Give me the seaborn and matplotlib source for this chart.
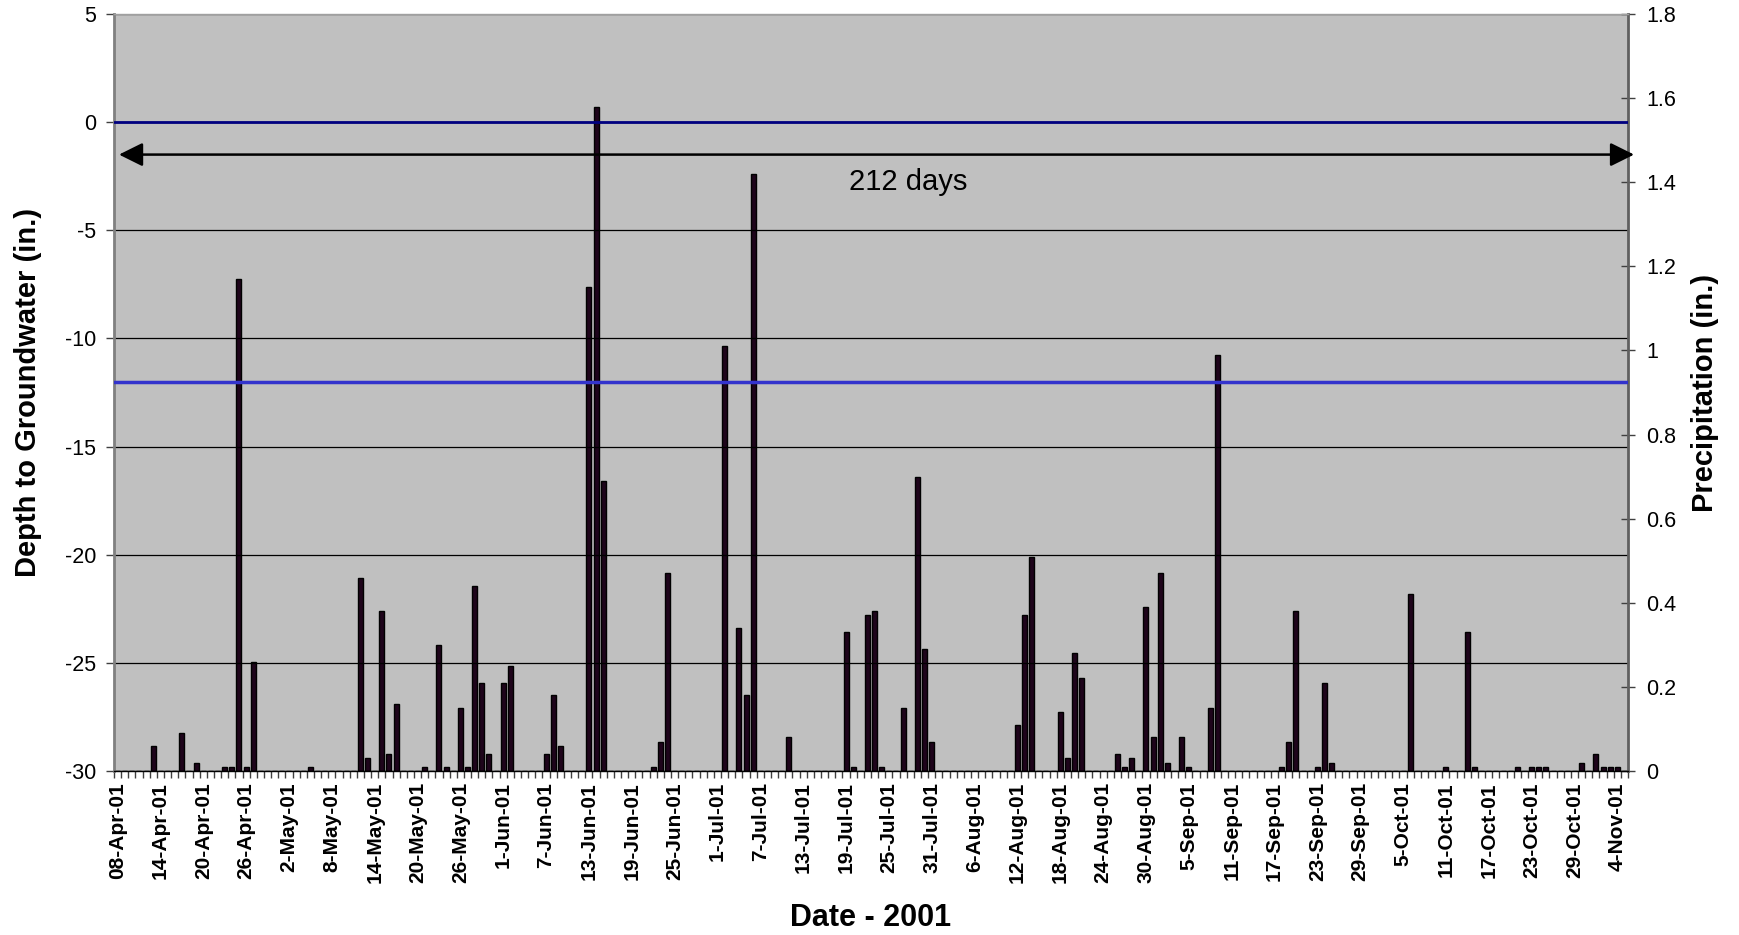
import numpy as np
import pandas as pd
import matplotlib
matplotlib.use("Agg")
import matplotlib.pyplot as plt
import seaborn as sns
from matplotlib.ticker import FixedLocator, NullFormatter

# Daily record window (one bar slot per day)
start_date = "2001-04-08"
end_date = "2001-11-05"

# Days with measurable precipitation and the amount (in.)
rain_dates = [
    "2001-04-13", "2001-04-17", "2001-04-19", "2001-04-23", "2001-04-24",
    "2001-04-25", "2001-04-26", "2001-04-27", "2001-05-05", "2001-05-12",
    "2001-05-13", "2001-05-15", "2001-05-16", "2001-05-17", "2001-05-21",
    "2001-05-23", "2001-05-24", "2001-05-26", "2001-05-27", "2001-05-28",
    "2001-05-29", "2001-05-30", "2001-06-01", "2001-06-02", "2001-06-07",
    "2001-06-08", "2001-06-09", "2001-06-13", "2001-06-14", "2001-06-15",
    "2001-06-22", "2001-06-23", "2001-06-24", "2001-07-02", "2001-07-04",
    "2001-07-05", "2001-07-06", "2001-07-11", "2001-07-19", "2001-07-20",
    "2001-07-22", "2001-07-23", "2001-07-24", "2001-07-27", "2001-07-29",
    "2001-07-30", "2001-07-31", "2001-08-12", "2001-08-13", "2001-08-14",
    "2001-08-18", "2001-08-19", "2001-08-20", "2001-08-21", "2001-08-26",
    "2001-08-27", "2001-08-28", "2001-08-30", "2001-08-31", "2001-09-01",
    "2001-09-02", "2001-09-04", "2001-09-05", "2001-09-08", "2001-09-09",
    "2001-09-18", "2001-09-19", "2001-09-20", "2001-09-23", "2001-09-24",
    "2001-09-25", "2001-10-06", "2001-10-11", "2001-10-14", "2001-10-15",
    "2001-10-21", "2001-10-23", "2001-10-24", "2001-10-25", "2001-10-30",
    "2001-11-01", "2001-11-02", "2001-11-03", "2001-11-04",
]
rain_in = [
    0.06, 0.09, 0.02, 0.01, 0.01,
    1.17, 0.01, 0.26, 0.01, 0.46,
    0.03, 0.38, 0.04, 0.16, 0.01,
    0.30, 0.01, 0.15, 0.01, 0.44,
    0.21, 0.04, 0.21, 0.25, 0.04,
    0.18, 0.06, 1.15, 1.58, 0.69,
    0.01, 0.07, 0.47, 1.01, 0.34,
    0.18, 1.42, 0.08, 0.33, 0.01,
    0.37, 0.38, 0.01, 0.15, 0.70,
    0.29, 0.07, 0.11, 0.37, 0.51,
    0.14, 0.03, 0.28, 0.22, 0.04,
    0.01, 0.03, 0.39, 0.08, 0.47,
    0.02, 0.08, 0.01, 0.15, 0.99,
    0.01, 0.07, 0.38, 0.01, 0.21,
    0.02, 0.42, 0.01, 0.33, 0.01,
    0.01, 0.01, 0.01, 0.01, 0.02,
    0.04, 0.01, 0.01, 0.01,
]

date_labels = [
    "08-Apr-01", "14-Apr-01", "20-Apr-01", "26-Apr-01", "2-May-01", "8-May-01",
    "14-May-01", "20-May-01", "26-May-01", "1-Jun-01", "7-Jun-01", "13-Jun-01",
    "19-Jun-01", "25-Jun-01", "1-Jul-01", "7-Jul-01", "13-Jul-01", "19-Jul-01",
    "25-Jul-01", "31-Jul-01", "6-Aug-01", "12-Aug-01", "18-Aug-01", "24-Aug-01",
    "30-Aug-01", "5-Sep-01", "11-Sep-01", "17-Sep-01", "23-Sep-01", "29-Sep-01",
    "5-Oct-01", "11-Oct-01", "17-Oct-01", "23-Oct-01", "29-Oct-01", "4-Nov-01",
]

depth_ticks = [5, 0, -5, -10, -15, -20, -25, -30]
precip_ticks = [0, 0.2, 0.4, 0.6, 0.8, 1.0, 1.2, 1.4, 1.6, 1.8]
ground_surface = 0
threshold_depth = -12
span_label = "212 days"
span_depth = -1.5

# Build the full daily table (zero on dry days)
days = pd.date_range(start_date, end_date, freq="D")
precip = pd.Series(0.0, index=days)
precip.loc[pd.to_datetime(rain_dates)] = rain_in
df = pd.DataFrame({"day": days.strftime("%Y-%m-%d"), "precip": precip.values})
n_days = len(df)

sns.set_theme(style="white")
plt.rcParams["font.family"] = ["Liberation Sans", "DejaVu Sans"]
plt.rcParams.update({"text.color": "black", "axes.labelcolor": "black",
                     "xtick.labelcolor": "black", "ytick.labelcolor": "black"})

fig = plt.figure(figsize=(17.4, 9.35), dpi=100)
rect = [114 / 1740, 1 - 771 / 935, (1628 - 114) / 1740, (771 - 14) / 935]

# Precipitation bars (right axis)
ax_p = fig.add_axes(rect)
ax_p.set_facecolor("#C0C0C0")
sns.barplot(data=df, x="day", y="precip", order=list(df["day"]), ax=ax_p,
            color="#1e041b", saturation=1, width=0.7, errorbar=None,
            edgecolor="black", linewidth=1.0)
ax_p.set_xlim(-0.5, n_days - 0.5)
ax_p.set_ylim(0, 1.8)
ax_p.yaxis.tick_right()
ax_p.yaxis.set_label_position("right")
ax_p.set_yticks(precip_ticks)
ax_p.set_yticklabels([f"{v:g}" for v in precip_ticks])
ax_p.tick_params(axis="y", which="major", direction="inout", length=10, width=1,
                 color="#404040", labelcolor="black", labelsize=15.5, pad=8,
                 right=True, left=False)
ax_p.set_ylabel("Precipitation (in.)", fontsize=21, fontweight="bold", rotation=90,
                va="center", color="black")
ax_p.yaxis.set_label_coords(1.0509, 0.5)

label_pos = [(pd.to_datetime(s, format="%d-%b-%y") - days[0]).days for s in date_labels]
ax_p.xaxis.set_major_locator(FixedLocator(label_pos))
ax_p.set_xticklabels(date_labels, rotation=90, fontsize=15, fontweight="bold",
                     color="black")
ax_p.xaxis.set_minor_locator(FixedLocator(np.arange(-0.5, n_days, 1.0)))
ax_p.xaxis.set_minor_formatter(NullFormatter())
ax_p.tick_params(axis="x", which="major", length=0, pad=8, bottom=True)
ax_p.tick_params(axis="x", which="minor", direction="out", length=5, width=1,
                 color="#404040", bottom=True)
ax_p.set_xlabel("Date - 2001", fontsize=22, fontweight="bold", va="center",
                color="black")
ax_p.xaxis.set_label_coords(0.5, -0.194)
for s in ax_p.spines.values():
    s.set_visible(False)

# Groundwater depth axis (left), drawn over the bars
ax_d = fig.add_axes(rect)
ax_d.patch.set_visible(False)
ax_d.set_xlim(-0.5, n_days - 0.5)
ax_d.set_ylim(-30, 5)
ax_d.set_xticks([])
ax_d.set_yticks(depth_ticks)
ax_d.set_yticklabels([str(v) for v in depth_ticks])
ax_d.tick_params(axis="y", direction="out", length=6, width=1, color="#404040",
                 labelcolor="black", labelsize=15.5, pad=7, left=True)
ax_d.grid(axis="y", color="black", linewidth=0.9)
ax_d.set_axisbelow(True)
ax_d.set_ylabel("Depth to Groundwater (in.)", fontsize=21, fontweight="bold",
                va="center", color="black")
ax_d.yaxis.set_label_coords(-0.0568, 0.5)

ax_d.axhline(ground_surface, color="#000080", linewidth=2.0, zorder=3)
ax_d.axhline(threshold_depth, color="#3333CC", linewidth=2.5, zorder=3)

ax_d.annotate("", xy=(n_days - 0.5 + 0.85, span_depth), xytext=(-0.5 + 0.7, span_depth),
              arrowprops=dict(arrowstyle="<|-|>,head_length=1.45,head_width=0.72",
                              color="black", lw=1.8, shrinkA=0, shrinkB=0,
                              mutation_scale=10),
              annotation_clip=False, zorder=4)
ax_d.text(0.5244, -2.75, span_label, transform=ax_d.get_yaxis_transform(),
          fontsize=21, ha="center", va="center", color="black", zorder=4)

ax_d.spines["left"].set_color("#808080")
ax_d.spines["left"].set_linewidth(2)
ax_d.spines["right"].set_color("#606060")
ax_d.spines["right"].set_linewidth(2)
ax_d.spines["top"].set_color("#A0A0A0")
ax_d.spines["top"].set_linewidth(1)
ax_d.spines["bottom"].set_color("black")
ax_d.spines["bottom"].set_linewidth(1)

fig.savefig("out.png", dpi=100, facecolor="white")
